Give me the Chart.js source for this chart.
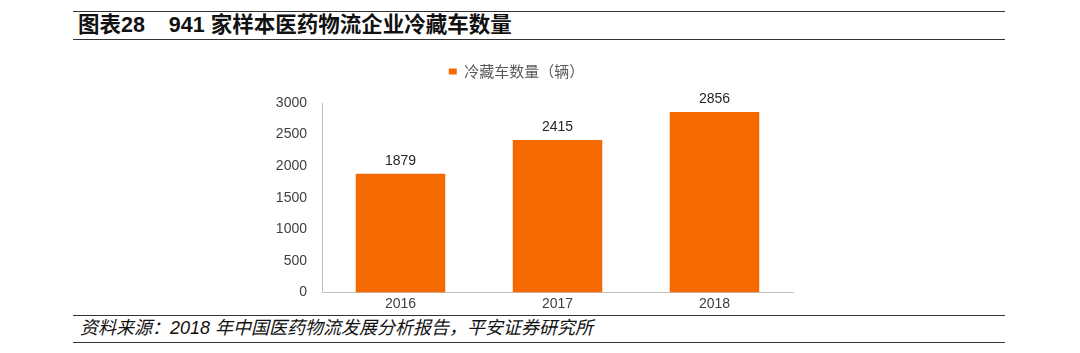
<!DOCTYPE html>
<html><head><meta charset="utf-8">
<script src="https://cdn.jsdelivr.net/npm/chart.js@4"></script>
<style>
html,body{margin:0;padding:0;background:#fff;width:1080px;height:353px;overflow:hidden;position:relative;font-family:"Liberation Sans","Noto Sans CJK SC",sans-serif;}
.line{position:absolute;left:73px;width:932px;background:#333;}
#title{position:absolute;left:78px;top:12px;font-size:21.5px;line-height:26px;font-weight:bold;color:#111;font-family:"Liberation Sans","Noto Sans CJK SC",sans-serif;white-space:nowrap;}
#source{position:absolute;left:80px;top:317px;font-size:18px;line-height:22px;font-style:italic;color:#111;white-space:nowrap;font-family:"Liberation Sans","Noto Sans CJK SC",sans-serif;}
#wrap{position:absolute;left:0;top:26px;width:1080px;height:290px;}
</style></head>
<body>
<div class="line" style="top:11px;height:1px;"></div>
<div id="title">图表28&nbsp;&nbsp;&nbsp;&nbsp;941 家样本医药物流企业冷藏车数量</div>
<div class="line" style="top:39px;height:1px;"></div>
<div class="line" style="top:315px;height:1px;"></div>
<div id="source">资料来源：2018 年中国医药物流发展分析报告，平安证券研究所</div>
<div class="line" style="top:342px;height:1px;"></div>
<div id="wrap"><canvas id="c"></canvas></div>
<script>
const categories = ["2016", "2017", "2018"];
const seriesName = "冷藏车数量（辆）";
const values = [1879, 2415, 2856];
const yTicks = [0, 500, 1000, 1500, 2000, 2500, 3000];

const labelPlugin = {
  id: 'valueLabels',
  afterDatasetsDraw(chart) {
    const ctx = chart.ctx;
    const meta = chart.getDatasetMeta(0);
    ctx.save();
    ctx.fillStyle = '#262626';
    ctx.font = '14px "Liberation Sans", Arial, sans-serif';
    ctx.textAlign = 'center';
    ctx.textBaseline = 'bottom';
    meta.data.forEach((el, i) => {
      ctx.fillText(String(chart.data.datasets[0].data[i]), el.x, el.y - 6);
    });
    ctx.restore();
  }
};

new Chart(document.getElementById('c'), {
  type: 'bar',
  data: {
    labels: categories,
    datasets: [{
      label: seriesName,
      data: values,
      backgroundColor: '#F46A00',
      categoryPercentage: 1,
      barPercentage: 0.57
    }]
  },
  options: {
    responsive: true,
    maintainAspectRatio: false,
    animation: false,
    layout: { padding: { left: 240, right: 287, top: 0, bottom: 0 } },
    plugins: {
      legend: {
        position: 'top',
        labels: {
          boxWidth: 8, boxHeight: 6,
          color: '#595959',
          font: { size: 15, family: '"Noto Sans CJK SC", sans-serif' },
          padding: 38
        }
      },
      tooltip: { enabled: false }
    },
    scales: {
      x: {
        grid: { display: false, drawTicks: false },
        border: { display: true, color: '#BFBFBF', width: 1 },
        ticks: { color: '#404040', font: { size: 14, family: '"Liberation Sans", Arial, sans-serif' }, padding: 3 }
      },
      xTop: {
        type: 'category',
        position: 'top',
        display: true,
        grid: { display: false, drawTicks: false },
        border: { display: false },
        ticks: { display: false },
        afterFit(axis) { axis.height = 14; }
      },
      y: {
        min: 0, max: 3000,
        afterBuildTicks(axis) { axis.ticks = yTicks.map(v => ({ value: v })); },
        afterFit(axis) { axis.width = 82; },
        grid: { display: false, drawTicks: false },
        border: { display: true, color: '#BFBFBF', width: 1 },
        ticks: {
          color: '#404040',
          font: { size: 14, family: '"Liberation Sans", Arial, sans-serif' },
          padding: 15,
          callback: (v) => String(v)
        }
      }
    }
  },
  plugins: [labelPlugin]
});
</script>
</body></html>
